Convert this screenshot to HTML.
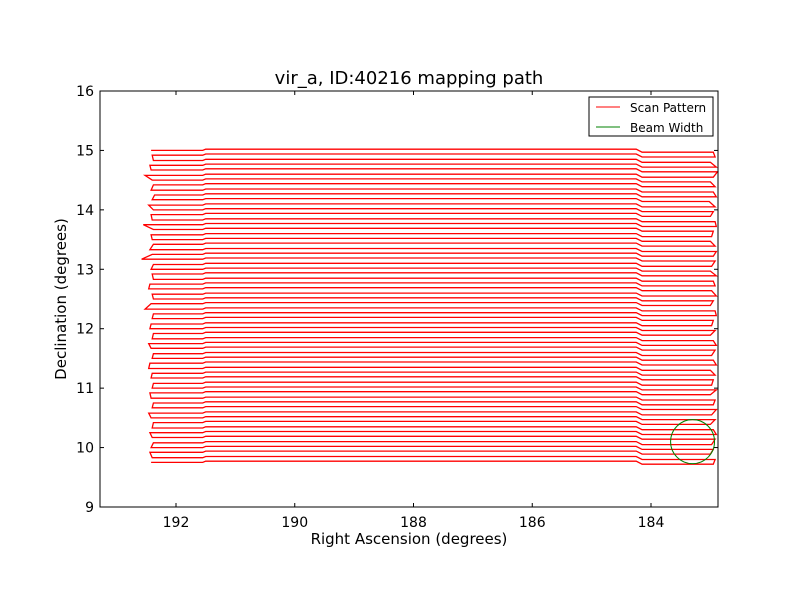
<!DOCTYPE html>
<html><head><meta charset="utf-8"><style>
body{margin:0;background:#fff}
svg text{font-family:"DejaVu Sans","Liberation Sans",sans-serif}
</style></head><body>
<svg id="c" width="800" height="600" viewBox="0 0 800 600">
<rect width="800" height="600" fill="#fff"/>
<text x="409" y="84" text-anchor="middle" font-size="18">vir_a, ID:40216 mapping path</text>
<text x="409" y="544" text-anchor="middle" font-size="15">Right Ascension (degrees)</text>
<text transform="translate(66,299) rotate(-90)" text-anchor="middle" font-size="15">Declination (degrees)</text>
<g id="plot"></g>
<rect x="100" y="91" width="618" height="416" fill="none" stroke="#000"/>
<g id="ticks"></g>
<g>
<rect x="589" y="97" width="124" height="39" fill="#fff" stroke="#000"/>
<g><line x1="596" y1="107" x2="620" y2="107" stroke="#f00"/><text x="630" y="112" font-size="12">Scan Pattern</text></g>
<g><line x1="596" y1="127" x2="620" y2="127" stroke="#008000"/><text x="630" y="132" font-size="12">Beam Width</text></g>
</g>
</svg>
<script>
const decRows=[15.00,14.92,14.83,14.75,14.67,14.58,14.50,14.42,14.33,14.25,14.17,14.08,14.00,13.92,13.83,13.75,13.67,13.58,13.50,13.42,13.33,13.25,13.17,13.08,13.00,12.92,12.83,12.75,12.67,12.58,12.50,12.42,12.33,12.25,12.17,12.08,12.00,11.92,11.83,11.75,11.67,11.58,11.50,11.42,11.33,11.25,11.17,11.08,11.00,10.92,10.83,10.75,10.67,10.58,10.50,10.42,10.33,10.25,10.17,10.08,10.00,9.92,9.83,9.75];
const leftRA=[192.42,192.40,192.38,192.44,192.42,192.52,192.40,192.38,192.42,192.36,192.40,192.46,192.38,192.42,192.40,192.55,192.38,192.42,192.40,192.38,192.44,192.40,192.58,192.38,192.42,192.40,192.38,192.44,192.46,192.40,192.38,192.42,192.52,192.38,192.40,192.42,192.44,192.38,192.40,192.46,192.42,192.38,192.40,192.44,192.46,192.40,192.42,192.38,192.40,192.44,192.42,192.38,192.40,192.46,192.42,192.38,192.40,192.44,192.40,192.38,192.42,192.44,192.40,192.42];
const rightRA=[182.95,182.92,183.00,182.90,182.88,182.95,183.00,182.92,182.95,182.90,183.02,182.92,182.95,183.00,182.92,182.90,182.95,182.98,183.00,182.92,182.90,182.95,182.92,182.98,183.00,182.90,182.95,182.92,182.98,182.90,182.95,183.00,182.92,182.90,182.95,182.98,182.92,183.00,182.95,182.90,182.92,182.98,182.95,182.90,183.00,182.92,182.95,182.98,182.90,183.00,182.92,182.95,182.90,182.98,182.92,183.00,182.95,182.90,182.92,182.98,182.95,183.00,182.92,182.95];
const xTicks=[192,190,188,186,184];
const yTicks=[9,10,11,12,13,14,15,16];
const beamRA=183.3, beamDec=10.1, beamRadius=0.37;
const X=ra=>100+(193.28-ra)*59.375;
const Y=d=>507-(d-9)*59.43;
const NS='http://www.w3.org/2000/svg';
const plot=document.getElementById('plot');
let pts=[];
decRows.forEach((d,i)=>{
  const row=[[leftRA[i],d],[191.55,d],[191.5,d+0.02],[184.25,d+0.02],[184.15,d-0.03],[rightRA[i],d-0.03]];
  if(i%2) row.reverse();
  pts=pts.concat(row);
});
const p=document.createElementNS(NS,'polyline');
p.setAttribute('points',pts.map(q=>X(q[0]).toFixed(1)+','+Y(q[1]).toFixed(1)).join(' '));
p.setAttribute('fill','none');p.setAttribute('stroke','#f00');p.setAttribute('stroke-width','1.3');


plot.appendChild(p);
const c=document.createElementNS(NS,'circle');
c.setAttribute('cx',X(beamRA));c.setAttribute('cy',Y(beamDec));c.setAttribute('r',beamRadius*59.4);
c.setAttribute('fill','none');c.setAttribute('stroke','#008000');


plot.appendChild(c);
const tg=document.getElementById('ticks');
xTicks.forEach(v=>{
  const x=X(v);
  const g=document.createElementNS(NS,'g');
  
  
  g.innerHTML=`<line x1="${x}" y1="507" x2="${x}" y2="503" stroke="#000"/><line x1="${x}" y1="91" x2="${x}" y2="95" stroke="#000"/><text x="${x}" y="527" text-anchor="middle" font-size="14">${v}</text>`;
  tg.appendChild(g);
});
yTicks.forEach(v=>{
  const y=Y(v);
  const g=document.createElementNS(NS,'g');
  
  
  g.innerHTML=`<line x1="100" y1="${y}" x2="104" y2="${y}" stroke="#000"/><line x1="718" y1="${y}" x2="714" y2="${y}" stroke="#000"/><text x="94" y="${y+5}" text-anchor="end" font-size="14">${v}</text>`;
  tg.appendChild(g);
});
</script>
</body></html>
